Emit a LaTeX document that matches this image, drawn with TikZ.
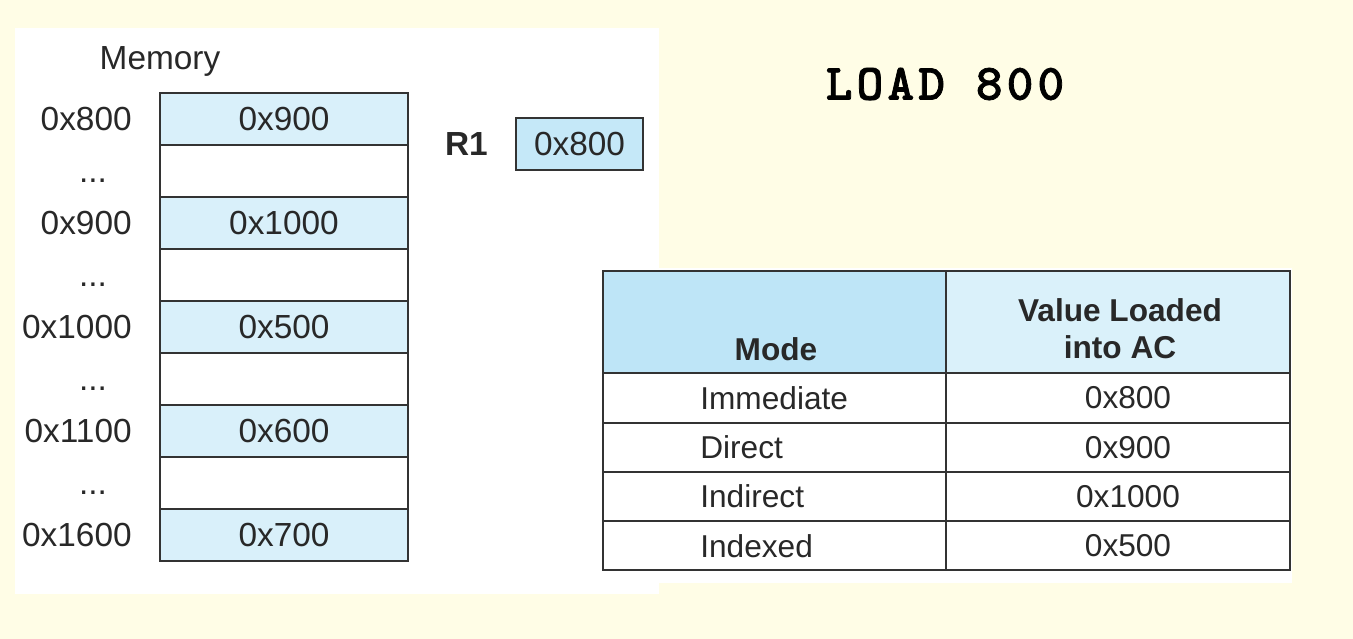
\documentclass[tikz,border=0pt]{standalone}
\usepackage{fontspec}
\setmainfont{Liberation Sans}
\newfontfamily\codefont{lmmonolt10-bold}[Extension=.otf, LetterSpace=8, FakeBold=1.5]
\usetikzlibrary{positioning}
\definecolor{bgcream}{RGB}{255,253,230}
\definecolor{cellblue}{RGB}{217,240,250}
\definecolor{regblue}{RGB}{197,232,248}
\definecolor{headblue}{RGB}{190,229,247}
\definecolor{headlight}{RGB}{218,241,250}
\definecolor{lineink}{RGB}{51,51,51}
\definecolor{txtink}{RGB}{40,40,40}
\tikzset{
  memcell/.style={
    draw=lineink,
    line width=1pt,
    minimum width=4.96cm,
    minimum height=1.04cm,
    inner sep=0pt,
    font=\fontsize{19}{22}\selectfont,
    text=txtink
  },
  memlabel/.style={
    inner sep=0pt,
    font=\fontsize{19}{22}\selectfont,
    text=txtink
  },
  tabcell/.style={
    draw=lineink,
    line width=1pt,
    fill=white,
    minimum height=0.985cm,
    inner sep=0pt
  },
  headcell/.style={
    draw=lineink,
    line width=1pt,
    minimum height=2.04cm,
    inner sep=0pt
  },
  tabtext/.style={
    inner sep=0pt,
    font=\fontsize{18}{21}\selectfont,
    text=txtink
  },
  headtext/.style={
    inner sep=0pt,
    font=\bfseries\fontsize{18}{21}\selectfont,
    text=txtink
  }
}

\begin{document}
\begin{tikzpicture}[x=0.02cm,y=-0.02cm]
    \fill[bgcream] (0,0) rectangle (1353,639);
    \useasboundingbox (0,0) rectangle (1353,639);
    \fill[white] (15,28) rectangle (659,594);
    \fill[white] (600,268) rectangle (1292,583);

    % memory column
    \node[memlabel] (memtitle) at (160,61) {Memory};
    \foreach \i/\val/\col in {1/0x900/cellblue, 2/{}/white, 3/0x1000/cellblue, 4/{}/white, 5/0x500/cellblue, 6/{}/white, 7/0x600/cellblue, 8/{}/white, 9/0x700/cellblue} {
      \node[memcell, fill=\col] (cell\i) at (284,67+52*\i) {\val};
    }
    \foreach \i/\addr in {1/0x800, 3/0x900, 5/0x1000, 7/0x1100, 9/0x1600} {
      \node[memlabel, anchor=east] (addr\i) at (132,67+52*\i) {\addr};
    }
    \foreach \i in {2,4,6,8} {
      \node[memlabel] (gap\i) at (93,77+52*\i) {...};
    }

    % register
    \node[memcell, fill=regblue, minimum width=2.54cm] (reg) at (579.5,144) {0x800};
    \node[memlabel, font=\bfseries\fontsize{19}{22}\selectfont, left=0.54cm of reg] (reglbl) {R1};

    \node[inner sep=0pt, font=\codefont\fontsize{29}{32}\selectfont] (instr) at (945,84) {LOAD 800};

    % mode table
    \node[headcell, fill=headblue, minimum width=6.86cm] (hmode) at (774.5,322) {};
    \node[headcell, fill=headlight, minimum width=6.88cm] (hval) at (1118,322) {};
    \node[headtext, anchor=base] (hmodetxt) at (776,360) {Mode};
    \node[headtext, align=center] (hvaltxt) at (1120,329) {Value Loaded\\into AC};
    \foreach \i/\mode/\val in {1/Immediate/0x800, 2/Direct/0x900, 3/Indirect/0x1000, 4/Indexed/0x500} {
      \node[tabcell, minimum width=6.86cm] (mode\i) at (774.5,348.75+49.25*\i) {};
      \node[tabcell, minimum width=6.88cm] (val\i) at (1118,348.75+49.25*\i) {};
      \node[tabtext, anchor=west] (modetxt\i) at (700,348.75+49.25*\i) {\mode};
      \node[tabtext] (valtxt\i) at (1128,348.75+49.25*\i) {\val};
    }
\end{tikzpicture}
\end{document}
